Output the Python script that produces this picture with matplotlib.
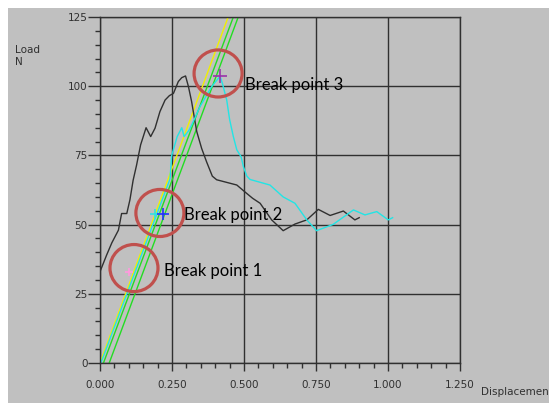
import matplotlib.pyplot as plt
from matplotlib.patches import Ellipse, Rectangle
from matplotlib.ticker import MultipleLocator, FormatStrFormatter

# first test (black) - displacement and load
black_disp = [0.0, 0.023, 0.041, 0.064, 0.075, 0.093, 0.104, 0.115, 0.127, 0.141, 0.16, 0.176,
              0.191, 0.208, 0.226, 0.241, 0.255, 0.272, 0.284, 0.297, 0.307, 0.318, 0.326,
              0.336, 0.353, 0.37, 0.39, 0.405, 0.475, 0.509, 0.53, 0.556, 0.596, 0.636,
              0.677, 0.718, 0.758, 0.799, 0.845, 0.885, 0.9]
black_load = [33, 39, 43.4, 48, 54, 54, 59, 66, 71.5, 78.8, 85, 81.8,
              84.8, 90.8, 95, 96.6, 97.4, 101.7, 103.1, 103.7, 99.9, 94.5, 89.6,
              83.6, 77.5, 72.7, 67.5, 66.2, 64.3, 61.3, 59.5, 57.7, 51.7, 47.8,
              50.2, 51.7, 55.5, 53.3, 54.9, 51.7, 52.5]

# second test (cyan)
cyan_disp = [0.003, 0.243, 0.249, 0.268, 0.284, 0.292, 0.31, 0.323, 0.347, 0.388, 0.417,
             0.425, 0.44, 0.45, 0.463, 0.475, 0.49, 0.498, 0.51, 0.521, 0.59, 0.636,
             0.677, 0.718, 0.752, 0.81, 0.88, 0.92, 0.961, 1.001, 1.016]
cyan_load = [0, 66.5, 75, 81.8, 85, 81.8, 84.2, 87, 92.6, 99.9, 103.6,
             101, 95, 88, 81.8, 77, 74.5, 70.9, 67.5, 66.3, 64.3, 60,
             57.7, 51.7, 47.8, 50.1, 55.3, 53.5, 54.7, 51.7, 52.5]

# stiffness lines
yellow_disp = [0.0, 0.445]
yellow_load = [0, 125]
green1_disp = [0.012, 0.463]
green1_load = [0, 125]
green2_disp = [0.032, 0.480]
green2_load = [0, 125]

# cross markers
mark_disp = [0.10, 0.191, 0.22, 0.417]
mark_load = [33, 54, 54, 103.7]
mark_color = ['#ff99dd', '#33e0e0', '#2233ff', '#9933aa']
mark_size = [6, 7, 9, 10]

# break points (circle centres) and labels
bp_disp = [0.118, 0.208, 0.41]
bp_load = [34.3, 54.2, 104.6]
bp_text = ['Break point 1', 'Break point 2', 'Break point 3']
bp_text_x = [0.223, 0.292, 0.503]
bp_text_y = [31.4, 51.7, 98.6]

x_ticks = [0.0, 0.25, 0.5, 0.75, 1.0, 1.25]
y_ticks = [0, 25, 50, 75, 100, 125]

grey = '#c0c0c0'
dark = '#303030'

fig = plt.figure(figsize=(5.49, 4.03), dpi=100)
fig.patch.set_facecolor('white')
# grey panel with a small white margin at top and left
fig.patches.append(Rectangle((8 / 549, 0), 1, 1 - 8 / 403, transform=fig.transFigure,
                             facecolor=grey, edgecolor='none', zorder=-10))

ax = fig.add_axes([100 / 549, 1 - 363 / 403, 360 / 549, 346 / 403])
ax.set_facecolor(grey)

ax.plot(yellow_disp, yellow_load, color='#f0f000', lw=1)
ax.plot(green1_disp, green1_load, color='#22dd22', lw=1)
ax.plot(green2_disp, green2_load, color='#22dd22', lw=1)
ax.plot(black_disp, black_load, color=dark, lw=1)
ax.plot(cyan_disp, cyan_load, color='#22e5e5', lw=1)

for i in range(len(mark_disp)):
    ax.plot(mark_disp[i], mark_load[i], marker='+', color=mark_color[i],
            markersize=mark_size[i], mew=1.2, clip_on=False)

for i in range(len(bp_disp)):
    # red circle drawn round each break point
    ax.add_patch(Ellipse((bp_disp[i], bp_load[i]), 0.1667, 17.0, fill=False,
                         edgecolor='#c0504d', lw=2.3, clip_on=False, zorder=5))
    ax.text(bp_text_x[i], bp_text_y[i], bp_text[i], fontsize=12, family='Lato',
            color='black', va='baseline', ha='left', zorder=6)

ax.set_xlim(0, 1.25)
ax.set_ylim(0, 125)
ax.set_xticks(x_ticks)
ax.set_yticks(y_ticks)
ax.xaxis.set_major_formatter(FormatStrFormatter('%.3f'))
ax.xaxis.set_minor_locator(MultipleLocator(0.05))
ax.yaxis.set_minor_locator(MultipleLocator(5))

ax.grid(True, which='major', color=dark, lw=1)
for s in ax.spines.values():
    s.set_color(dark)
    s.set_linewidth(1)

ax.tick_params(axis='y', which='major', length=9, width=1, pad=0, labelsize=7.5, colors=dark)
ax.tick_params(axis='y', which='minor', length=3.6, width=1, colors=dark)
ax.tick_params(axis='x', which='major', length=6, width=1, pad=6, labelsize=7.5, colors=dark)
ax.tick_params(axis='x', which='minor', length=3.6, width=1, colors=dark)

fig.text(15 / 549, 1 - 56 / 403, 'Load\nN', fontsize=7.5, color=dark, va='center', ha='left',
         linespacing=1.15)
# the reference cuts this label at the right edge
fig.text(481 / 549, 1 - 392 / 403, 'Displacement', fontsize=7.5, color=dark, va='center',
         ha='left')

plt.savefig('out.png', dpi=100)
